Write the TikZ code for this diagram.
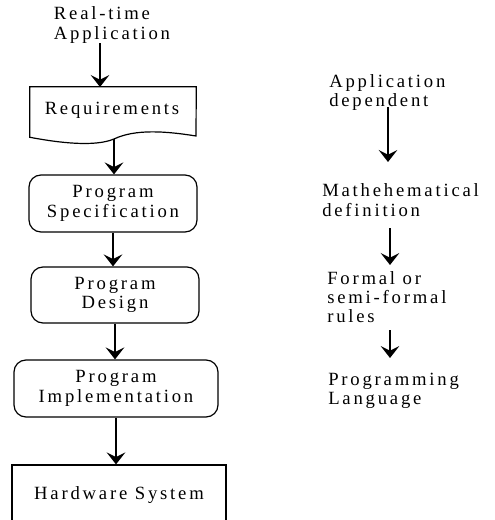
\documentclass[tikz,border=0pt]{standalone}
\usepackage{fontspec}
\setmainfont{Liberation Serif}[LetterSpace=15]
\usetikzlibrary{arrows.meta}
\begin{document}
\begin{tikzpicture}[x=0.75pt,y=-0.75pt,
  every node/.style={font=\fontsize{14pt}{14.5pt}\selectfont, inner sep=0pt},
  arr/.style={line width=1.4pt,-{Stealth[length=9pt,width=14pt,inset=3.5pt]}},
  boxline/.style={line width=0.9pt},
  roundbox/.style={boxline,draw,rounded corners=9pt,align=center},
  txt/.style={align=left,anchor=west}]
\useasboundingbox (0,0) rectangle (495,520);
% left column
\node[align=left] (rt) at (112,25) {Real-time\\Application};
\node[minimum width=124.5pt,minimum height=37.5pt] (req) at (113,112) {};
\node at (112,110) (reqt) {Requirements};
\draw[boxline] (req.south west) -- (req.north west) -- (req.north east) -- (196,136)
   .. controls (165,131) and (135,129) .. (114,139)
   .. controls (95,147) and (60,143) .. (req.south west) -- cycle;
\coordinate (reqb) at (114,139);
\node[roundbox,minimum width=126pt,minimum height=42.75pt] (spec) at (113,203.5) {Program\\Specification};
\node[roundbox,minimum width=126pt,minimum height=42pt] (design) at (115,295) {Program\\Design};
\node[roundbox,minimum width=153pt,minimum height=42.75pt] (impl) at (116,388.5) {Program\\Implementation};
\node[boxline,draw,minimum width=160.5pt,minimum height=45pt] (hw) at (119,495) {Hardware System};
\draw[arr] (rt.south -| 100,0) -- (100,87);
\draw[arr] (reqb) -- (reqb |- spec.north);
\draw[arr] (spec.south) -- (spec.south |- design.north);
\draw[arr] (design.south) -- (design.south |- impl.north);
\draw[arr] (impl.south) -- (impl.south |- hw.north);
% right column
\node[txt] (appdep) at (329,92.5) {Application\\dependent};
\node[txt] (math) at (322,200) {Mathehematical\\definition};
\node[txt] (formal) at (327,297) {Formal or\\semi-formal\\rules};
\node[txt] (prog) at (328,391) {Programming\\Language};
\draw[arr] (appdep.south -| 388,0) ++(0,-4) -- (388,162);
\draw[arr] (390,228) -- (390,265);
\draw[arr] (390,330) -- (390,358);
\end{tikzpicture}
\end{document}
